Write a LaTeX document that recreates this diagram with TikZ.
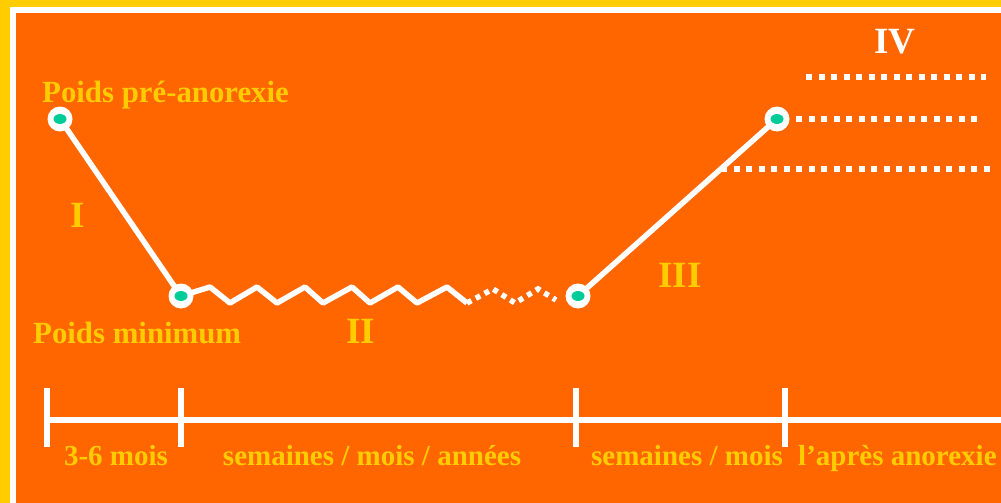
\documentclass[tikz,border=0pt]{standalone}
\usepackage{fontspec}
\setmainfont{Liberation Serif}
\definecolor{bgorange}{HTML}{FF6600}
\definecolor{gold}{HTML}{FFCC00}
\definecolor{teal2}{HTML}{00CC99}
\begin{document}
\begin{tikzpicture}[x=1pt,y=-1pt,
  lbl/.style={inner sep=0pt,text=gold,font=\fontsize{29}{34}\selectfont\bfseries},
  biglbl/.style={inner sep=0pt,text=gold,font=\fontsize{30.8}{36}\selectfont\bfseries},
  num/.style={inner sep=0pt,text=gold,font=\fontsize{37}{42}\selectfont\bfseries},
  wline/.style={draw=white,line width=5.5pt},
  dots/.style={draw=white,line width=6pt,dash pattern=on 6pt off 6.5pt},
  pt/.style={circle,fill=white,minimum size=25pt,inner sep=0pt},
  tick/.style={draw=white,line width=6pt}]
\useasboundingbox (0,0) rectangle (1001,503);
\fill[gold] (0,0) rectangle (1001,503);
\fill[white] (10,7) rectangle (1001,503);
\fill[bgorange] (16,13) rectangle (1001,503);
% key points
\coordinate (A) at (60,119);
\coordinate (B) at (181,296);
\coordinate (C) at (578,296);
\coordinate (D) at (777,119);
\coordinate (Z) at (467,303);
% curve
\draw[wline] (A) -- (B);
\draw[wline,line join=round] (B) -- (210,287) -- (230,303) -- (257,287) -- (277,303) -- (305,287) -- (323,303)
  -- (352,287) -- (370,303) -- (398,287) -- (417,303) -- (447,287) -- (Z);
\draw[draw=white,line width=5.5pt,dash pattern=on 5pt off 5pt] (Z) -- (493,289) -- (515,303) -- (538,289) -- (556,300);
\draw[wline] (C) -- (D);
% phase IV dotted lines
\coordinate (t1) at (806,77);
\coordinate (t2) at (986,77);
\coordinate (m1) at (796,119);
\coordinate (m2) at (979,119);
\coordinate (b1) at (721,169);
\coordinate (b2) at (993,169);
\draw[dots] (t1) -- (t2);
\draw[dots] (m1) -- (m2);
\draw[dots] (b1) -- (b2);
% nodes
\foreach \p in {A,B,C,D}{
  \node[pt] (n\p) at (\p) {};
  \fill[teal2] (\p) ellipse (6.5 and 5);
}
% timeline
\coordinate (L0) at (47,420);
\coordinate (L1) at (1001,420);
\draw[wline] (L0) -- (L1);
\foreach \x in {47,181,576,785}{
  \draw[tick] (\x,388) -- (\x,447);
}
% labels
\node[biglbl,anchor=base west] (lpre) at (42,102) {Poids pré-anorexie};
\node[biglbl,anchor=base west] (lmin) at (33,343) {Poids minimum};
\node[num,anchor=base] (nI) at (78,227) {I};
\node[num,anchor=base] (nII) at (361,343) {II};
\node[num,anchor=base] (nIII) at (680,287) {III};
\node[num,anchor=base,text=white] (nIV) at (895,54) {IV};
\node[lbl,anchor=base] (d1) at (116,465) {3-6 mois};
\node[lbl,anchor=base] (d2) at (372,465) {semaines / mois / années};
\node[lbl,anchor=base] (d3) at (687,465) {semaines / mois};
\node[lbl,anchor=base west] (d4) at (798,465) {l’après anorexie};
\end{tikzpicture}
\end{document}
